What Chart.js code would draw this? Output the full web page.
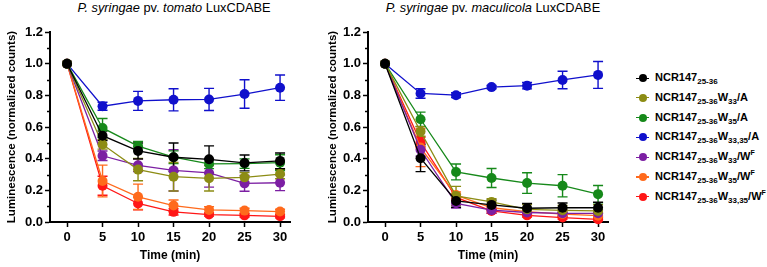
<!DOCTYPE html>
<html>
<head>
<meta charset="utf-8">
<script src="https://cdn.jsdelivr.net/npm/chart.js@4/dist/chart.umd.min.js"></script>
<style>
  body { margin: 0; width: 767px; height: 267px; background: #fff; position: relative; overflow: hidden;
         font-family: "Liberation Sans", Arial, sans-serif; color: #000; }
  .box { position: absolute; top: 0; height: 267px; }
  #box1 { left: 0; width: 320px; }
  #box2 { left: 321px; width: 300px; }
  .ttl { position: absolute; top: 0px; font-size: 12.8px; white-space: nowrap; transform: translateX(-50%); }
  #legend { position: absolute; left: 636px; top: 68px; font-weight: bold; font-size: 11px; }
  .row { height: 19.8px; line-height: 19.8px; white-space: nowrap; }
  .mk { display: inline-block; position: relative; width: 13px; height: 8px; margin-right: 6px; vertical-align: -1px; }
  .mk::before { content: ""; position: absolute; left: 0; right: 0; top: 3.5px; height: 1.2px; background: currentColor; }
  .mk::after { content: ""; position: absolute; left: 2.5px; top: 0; width: 8px; height: 8px; border-radius: 50%; background: currentColor; }
  .row sub { font-size: 8px; vertical-align: -3px; line-height: 0; }
  .row sup { font-size: 7px; vertical-align: 5px; line-height: 0; }
  .lt { color: #000; }
</style>
</head>
<body>
<div class="ttl" style="left:174px"><i>P. syringae</i> pv. <i>tomato</i> LuxCDABE</div>
<div class="ttl" style="left:493px"><i>P. syringae</i> pv. <i>maculicola</i> LuxCDABE</div>
<div class="box" id="box1"><canvas id="chart1"></canvas></div>
<div class="box" id="box2"><canvas id="chart2"></canvas></div>
<div id="legend"></div>
<script>
const times = [0, 5, 10, 15, 20, 25, 30];
const xTicks = [0, 5, 10, 15, 20, 25, 30];
const yTicks = [0, 0.2, 0.4, 0.6, 0.8, 1.0, 1.2];
const yMinorTicks = [0.1, 0.3, 0.5, 0.7, 0.9, 1.1];

const seriesNames = [
  "NCR147<sub>25-36</sub>",
  "NCR147<sub>25-36</sub>W<sub>33</sub>/A",
  "NCR147<sub>25-36</sub>W<sub>35</sub>/A",
  "NCR147<sub>25-36</sub>W<sub>33,35</sub>/A",
  "NCR147<sub>25-36</sub>W<sub>33</sub>/W<sup>F</sup>",
  "NCR147<sub>25-36</sub>W<sub>35</sub>/W<sup>F</sup>",
  "NCR147<sub>25-36</sub>W<sub>33,35</sub>/W<sup>F</sup>"
];
const seriesColors = ["#000000", "#8c8c14", "#16891a", "#1010cc", "#7c1fa3", "#ff6a1c", "#ff1616"];

// P. syringae pv. tomato
const tomatoMeans = [
  [1.0, 0.545, 0.449, 0.409, 0.396, 0.373, 0.386],
  [1.0, 0.490, 0.331, 0.286, 0.276, 0.282, 0.303],
  [1.0, 0.594, 0.479, 0.409, 0.367, 0.369, 0.375],
  [1.0, 0.731, 0.765, 0.772, 0.774, 0.808, 0.848],
  [1.0, 0.418, 0.358, 0.326, 0.310, 0.244, 0.248],
  [1.0, 0.259, 0.159, 0.104, 0.076, 0.072, 0.066],
  [1.0, 0.229, 0.117, 0.064, 0.047, 0.042, 0.036]
];
const tomatoErrors = [
  [0, 0.03, 0.05, 0.09, 0.085, 0.05, 0.05],
  [0, 0.03, 0.07, 0.09, 0.08, 0.03, 0.03],
  [0, 0.06, 0.03, 0.04, 0.03, 0.03, 0.05],
  [0, 0.025, 0.06, 0.07, 0.07, 0.09, 0.08],
  [0, 0.03, 0.04, 0.13, 0.09, 0.05, 0.05],
  [0, 0.10, 0.08, 0.035, 0.02, 0.015, 0.015],
  [0, 0.06, 0.04, 0.02, 0.01, 0.01, 0.01]
];

// P. syringae pv. maculicola
const maculicolaMeans = [
  [1.0, 0.403, 0.133, 0.108, 0.087, 0.090, 0.090],
  [1.0, 0.572, 0.165, 0.127, 0.080, 0.074, 0.070],
  [1.0, 0.649, 0.316, 0.278, 0.246, 0.229, 0.176],
  [1.0, 0.812, 0.801, 0.852, 0.861, 0.897, 0.929],
  [1.0, 0.456, 0.118, 0.075, 0.060, 0.055, 0.055],
  [1.0, 0.470, 0.170, 0.090, 0.065, 0.050, 0.040],
  [1.0, 0.505, 0.155, 0.070, 0.042, 0.028, 0.017]
];
const maculicolaErrors = [
  [0, 0.085, 0.04, 0.03, 0.03, 0.03, 0.035],
  [0, 0.03, 0.06, 0.02, 0.03, 0.03, 0.04],
  [0, 0.045, 0.05, 0.06, 0.065, 0.07, 0.055],
  [0, 0.03, 0.015, 0.01, 0.02, 0.055, 0.085],
  [0, 0.04, 0.03, 0.02, 0.02, 0.02, 0.02],
  [0, 0.12, 0.02, 0.02, 0.02, 0.02, 0.02],
  [0, 0.03, 0.02, 0.015, 0.01, 0.01, 0.01]
];

const FONT = "'Liberation Sans', Arial, sans-serif";

// vertical error bars with caps, drawn under the points
const errorBars = {
  id: "errorBars",
  beforeDatasetsDraw(chart) {
    const ctx = chart.ctx;
    const y = chart.scales.y;
    for (let i = chart.data.datasets.length - 1; i >= 0; i--) {
      const ds = chart.data.datasets[i];
      const meta = chart.getDatasetMeta(i);
      ctx.save();
      ctx.strokeStyle = ds.borderColor;
      ctx.lineWidth = 1.4;
      ds.data.forEach((pt, j) => {
        const e = ds.errors[j];
        if (!e) return;
        const px = meta.data[j].x;
        const top = y.getPixelForValue(pt.y + e);
        const bot = y.getPixelForValue(pt.y - e);
        ctx.beginPath();
        ctx.moveTo(px, top); ctx.lineTo(px, bot);
        ctx.moveTo(px - 5, top); ctx.lineTo(px + 5, top);
        ctx.moveTo(px - 5, bot); ctx.lineTo(px + 5, bot);
        ctx.stroke();
      });
      ctx.restore();
    }
  }
};

// short unlabeled ticks between the labeled ones on the y axis
const minorTicks = {
  id: "minorTicks",
  afterDraw(chart) {
    const ctx = chart.ctx;
    const y = chart.scales.y;
    ctx.save();
    ctx.strokeStyle = "#000";
    ctx.lineWidth = 1.5;
    for (const v of yMinorTicks) {
      const py = Math.round(y.getPixelForValue(v)) + 0.5;
      ctx.beginPath();
      ctx.moveTo(chart.chartArea.left - 3, py);
      ctx.lineTo(chart.chartArea.left, py);
      ctx.stroke();
    }
    ctx.restore();
  }
};

function makeChart(id, means, errors, padLeft, yWidth, padRight) {
  const datasets = means.map((m, i) => ({
    data: m.map((v, j) => ({ x: times[j], y: v })),
    errors: errors[i],
    borderColor: seriesColors[i],
    backgroundColor: seriesColors[i],
    borderWidth: 1.3,
    pointRadius: 5,
    pointBorderWidth: 0,
    pointBackgroundColor: seriesColors[i],
    clip: false,
    tension: 0
  }));
  return new Chart(document.getElementById(id), {
    type: "line",
    data: { datasets },
    options: {
      responsive: true,
      maintainAspectRatio: false,
      animation: false,
      layout: { padding: { left: padLeft, right: padRight, top: 32, bottom: 0 } },
      plugins: { legend: { display: false }, tooltip: { enabled: false }, title: { display: false } },
      scales: {
        x: {
          type: "linear",
          min: -2.4,
          max: 31.4,
          afterBuildTicks: axis => { axis.ticks = xTicks.map(v => ({ value: v })); },
          afterFit: axis => { axis.height = 45; },
          ticks: { color: "#000", font: { family: FONT, size: 13, weight: "bold" }, padding: 3, maxRotation: 0 },
          grid: { drawOnChartArea: false, drawTicks: true, tickLength: 5, color: "#000", tickWidth: 1.5 },
          border: { display: true, color: "#000", width: 2 },
          title: { display: true, text: "Time (min)", color: "#000", font: { family: FONT, size: 12, weight: "bold" }, padding: { top: 0, bottom: 4 } }
        },
        y: {
          min: 0,
          max: 1.2,
          afterBuildTicks: axis => { axis.ticks = yTicks.map(v => ({ value: v })); },
          afterFit: axis => { axis.width = yWidth; },
          ticks: { color: "#000", font: { family: FONT, size: 13, weight: "bold" }, padding: 2, callback: v => v.toFixed(1) },
          grid: { drawOnChartArea: false, drawTicks: true, tickLength: 5, color: "#000", tickWidth: 1.5 },
          border: { display: true, color: "#000", width: 2 },
          title: { display: true, text: "Luminescence (normalized counts)", color: "#000", font: { family: FONT, size: 11.5, weight: "bold" }, padding: { top: 4, bottom: 0 } }
        }
      }
    },
    plugins: [errorBars, minorTicks]
  });
}

function buildLegend() {
  const box = document.getElementById("legend");
  seriesNames.forEach((name, i) => {
    const row = document.createElement("div");
    row.className = "row";
    row.innerHTML = '<span class="mk" style="color:' + seriesColors[i] + '"></span><span class="lt">' + name + "</span>";
    box.appendChild(row);
  });
}

buildLegend();
makeChart("chart1", tomatoMeans, tomatoErrors, 1, 49, 30);
makeChart("chart2", maculicolaMeans, maculicolaErrors, 1, 46, 13);
</script>
</body>
</html>
